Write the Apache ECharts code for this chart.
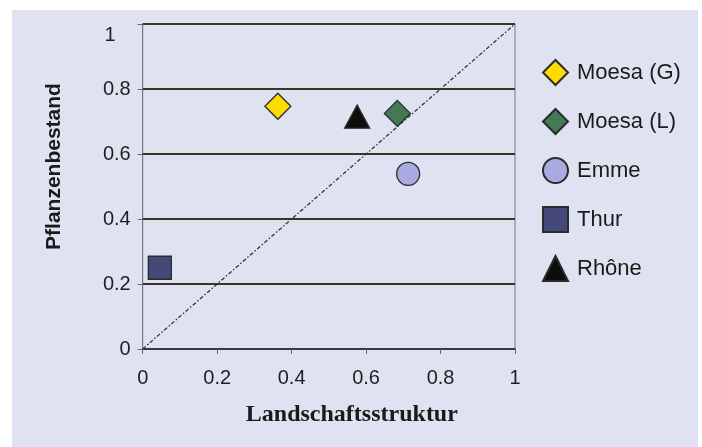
<!DOCTYPE html>
<html>
<head>
<meta charset="utf-8">
<script src="https://cdn.jsdelivr.net/npm/echarts@6/dist/echarts.min.js"></script>
<style>
  html, body { margin: 0; padding: 0; background: #ffffff; width: 702px; height: 447px; overflow: hidden; }
  #chart { position: absolute; left: 12px; top: 10px; width: 686px; height: 437px; background: #dfe3f1; }
</style>
</head>
<body>
<div id="chart"></div>
<script>
// Data
const seriesNames = ['Moesa (G)', 'Moesa (L)', 'Emme', 'Thur', 'Rhône'];
const xValues = [0.363, 0.684, 0.713, 0.046, 0.576];   // Landschaftsstruktur
const yValues = [0.747, 0.725, 0.539, 0.250, 0.715];   // Pflanzenbestand
const diagonalX = [0, 1];
const diagonalY = [0, 1];
const axisTicks = [0, 0.2, 0.4, 0.6, 0.8, 1];

// Styles
const symbols = ['diamond', 'diamond', 'circle', 'rect', 'triangle'];
const symbolSizes = [26, 26, 23, 23, [25, 23]];
const fills = ['#ffdc00', '#437a55', '#a9aadf', '#454978', '#0d0d0d'];

const chart = echarts.init(document.getElementById('chart'), null, { renderer: 'canvas' });

const scatterSeries = seriesNames.map((name, i) => ({
  name: name,
  type: 'scatter',
  symbol: symbols[i],
  symbolSize: symbolSizes[i],
  z: 5,
  itemStyle: { color: fills[i], borderColor: '#2a2a2a', borderWidth: 1.3, opacity: 1 },
  emphasis: { disabled: true },
  data: [[xValues[i], yValues[i]]]
}));

const option = {
  backgroundColor: 'transparent',
  animation: false,
  textStyle: { fontFamily: 'Liberation Sans, Arial, sans-serif' },
  grid: {
    left: 130.7, right: 183, top: 14, bottom: 98,
    show: true, borderColor: '#7a7a7a', borderWidth: 1, backgroundColor: 'transparent'
  },
  legend: {
    orient: 'vertical',
    left: 525,
    top: 44,
    itemWidth: 25,
    itemHeight: 25,
    itemGap: 22,
    data: seriesNames,
    textStyle: { fontSize: 22, color: '#1a1a1a', fontFamily: 'Liberation Sans, Arial, sans-serif', padding: [0, 0, 0, 4] }
  },
  xAxis: {
    type: 'value',
    min: 0, max: 1, interval: 0.2,
    name: 'Landschaftsstruktur',
    nameLocation: 'middle',
    nameGap: 54,
    nameTextStyle: { fontFamily: 'Liberation Serif, Times New Roman, serif', fontWeight: 'bold', fontSize: 24, color: '#1a1a1a', padding: [0, 0, 0, 46] },
    axisLine: { show: true, onZero: false, lineStyle: { color: '#3c3a48', width: 1.5 } },
    axisTick: { show: true, length: 5, lineStyle: { color: '#666' } },
    axisLabel: { fontSize: 20, color: '#1e1e1e', margin: 19 },
    splitLine: { show: false }
  },
  yAxis: {
    type: 'value',
    min: 0, max: 1, interval: 0.2,
    name: 'Pflanzenbestand',
    nameLocation: 'middle',
    nameGap: 78,
    nameTextStyle: { fontFamily: 'Liberation Sans, Arial, sans-serif', fontWeight: 'bold', fontSize: 21, color: '#1a1a1a', padding: [0, 0, 0, 40] },
    axisLine: { show: true, onZero: false, lineStyle: { color: '#777', width: 1 } },
    axisTick: { show: true, length: 5, lineStyle: { color: '#666' } },
    axisLabel: {
      fontSize: 20, color: '#1e1e1e', margin: 12,
      formatter: function (v) { return v === 1 ? '{one|1}' : String(v); },
      rich: { one: { fontSize: 20, color: '#1e1e1e', padding: [22, 15, 0, 0] } }
    },
    splitLine: { show: true, lineStyle: { color: '#3d3327', width: 2 } }
  },
  series: [
    {
      name: 'x = y',
      type: 'line',
      z: 3,
      symbol: 'none',
      silent: true,
      lineStyle: { color: '#333', width: 1.3, type: [4, 2, 1.5, 2] },
      data: diagonalX.map((x, i) => [x, diagonalY[i]])
    }
  ].concat(scatterSeries)
};

chart.setOption(option);
</script>
</body>
</html>
